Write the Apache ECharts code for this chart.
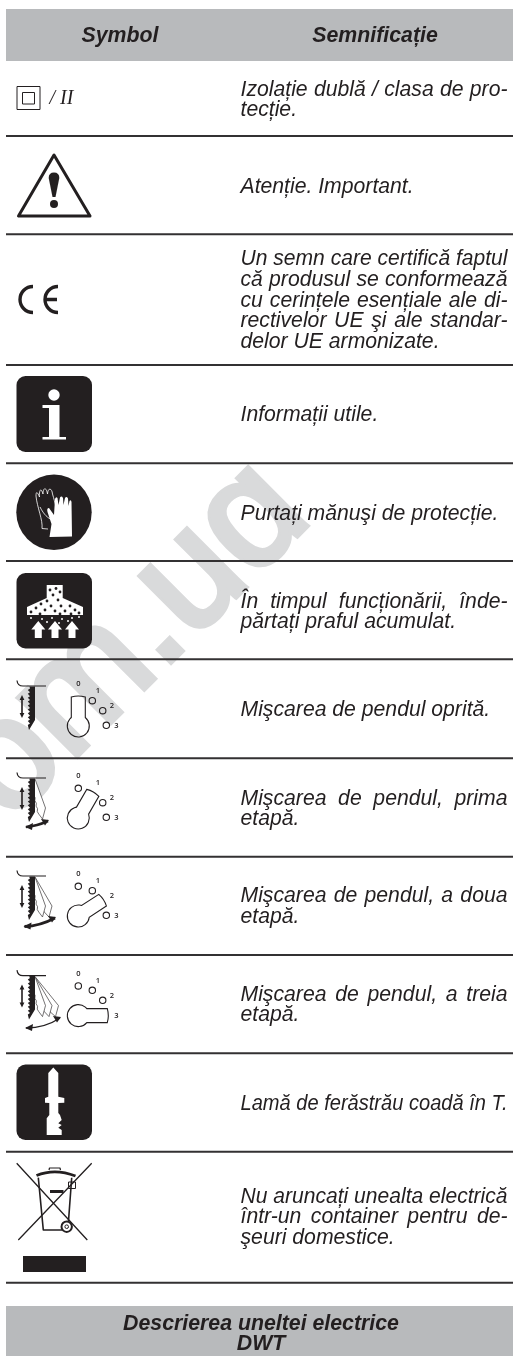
<!DOCTYPE html>
<html><head><meta charset="utf-8">
<style>html,body{margin:0;padding:0;background:#fff}#c{width:513px;height:1356px}</style>
<script src="https://cdn.jsdelivr.net/npm/echarts@6/dist/echarts.min.js"></script>
</head><body><div id="c"></div>
<script>
// ---- content ----
const headers = ['Symbol', 'Semnificație'];
const meanings = [
  ['Izolație dublă / clasa de pro-', 'tecție.'],
  ['Atenție. Important.'],
  ['Un semn care certifică faptul', 'că produsul se conformează', 'cu cerințele esențiale ale di-', 'rectivelor UE şi ale standar-', 'delor UE armonizate.'],
  ['Informații utile.'],
  ['Purtați mănuşi de protecție.'],
  ['În timpul funcționării, înde-', 'părtați praful acumulat.'],
  ['Mişcarea de pendul oprită.'],
  ['Mişcarea de pendul, prima', 'etapă.'],
  ['Mişcarea de pendul, a doua', 'etapă.'],
  ['Mişcarea de pendul, a treia', 'etapă.'],
  ['Lamă de ferăstrău coadă în T.'],
  ['Nu aruncați unealta electrică', 'într-un container pentru de-', 'şeuri domestice.']
];
const footerLines = ['Descrierea uneltei electrice', 'DWT'];
const watermark = 'om.uɑ';
const dialLabels = ['0', '1', '2', '3'];
const classTwoLabel = '/ II';

// ---- layout ----
const INK = '#231f20', BAND = '#b8babc', RULE = '#333132', WM = '#d9dadb';
const TEXT_L = 240.5, TEXT_R = 507.5, LEAD = 20.75, FS = 21.2;
const firstBaselines = [96, 193, 265.5, 421.7, 520, 608, 716.7, 805, 902.7, 1001, 1110, 1203];
const ruleYs = [136, 234.3, 365, 463.3, 561, 659.3, 758.3, 856.7, 955, 1053.3, 1151.7, 1282.7];
const bodyFont = 'italic 400 ' + FS + 'px "Liberation Sans"';
const headFont = 'italic 700 21.3px "Liberation Sans"';

const mctx = document.createElement('canvas').getContext('2d');
function widthOf(s, font) { mctx.font = font; return mctx.measureText(s).width; }
function txt(s, x, base, font, fill, align) {
  const m = /(\d+(\.\d+)?)px/.exec(font); const fs = +m[1];
  return { type: 'text', style: { text: s, x: x, y: base - 0.3 * fs, font: font, fill: fill || INK, align: align || 'left', verticalAlign: 'middle' } };
}
function path(d, style, extra) { return Object.assign({ type: 'path', shape: { pathData: d }, style: style }, extra || {}); }
const fillS = c => ({ fill: c || INK, stroke: 'none' });
const lineS = (w, c) => ({ fill: 'none', stroke: c || INK, lineWidth: w, lineJoin: 'round', lineCap: 'butt' });
function rrect(x, y, w, h, r, fill) { return { type: 'rect', shape: { x, y, width: w, height: h, r }, style: { fill: fill } }; }
function circ(cx, cy, r, style) { return { type: 'circle', shape: { cx, cy, r }, style }; }

function meaningItems(i) {
  const out = []; const lines = meanings[i];
  const avail = TEXT_R - TEXT_L;
  lines.forEach((ln, k) => {
    const y = firstBaselines[i] + k * LEAD;
    const natural = widthOf(ln, bodyFont);
    if (natural > avail) {
      // the original tightens over-long lines to the measure
      const t = txt(ln, 0, 0, bodyFont);
      t.x = TEXT_L; t.y = y; t.scaleX = avail / natural;
      out.push(t); return;
    }
    if (k === lines.length - 1) { out.push(txt(ln, TEXT_L, y, bodyFont)); return; }
    const words = ln.split(' ');
    const total = words.reduce((a, w) => a + widthOf(w, bodyFont), 0);
    const gap = (avail - total) / (words.length - 1);
    let x = TEXT_L;
    words.forEach(w => { out.push(txt(w, x, y, bodyFont)); x += widthOf(w, bodyFont) + gap; });
  });
  return out;
}

// ---- symbols ----
function pendulum(stage, dy) {
  const out = [];
  out.push(path('M17 ' + (680.5 + dy) + 'Q17.5 ' + (686 + dy) + ' 23 ' + (686 + dy) + 'L46 ' + (686 + dy), lineS(1.2)));
  out.push(path('M22 ' + (695 + dy) + 'L24.4 ' + (700 + dy) + 'L22.8 ' + (700 + dy) + 'L22.8 ' + (713 + dy) + 'L24.4 ' + (713 + dy) + 'L22 ' + (718 + dy) + 'L19.6 ' + (713 + dy) + 'L21.2 ' + (713 + dy) + 'L21.2 ' + (700 + dy) + 'L19.6 ' + (700 + dy) + 'Z', fillS()));
  for (let k = stage; k >= 1; k--) {
    const sk = k * 6.5 + 2; let d = 'M' + (35) + ' ' + (687 + dy);
    d += 'L' + (37 + sk) + ' ' + (716 + dy);
    d += 'L' + (34 + sk) + ' ' + (727 + dy);
    for (let t = 6; t >= 1; t--) {
      const f = t / 7, y = 687 + dy + f * 38, x = 30 + sk * f;
      d += 'L' + (x + 1.5) + ' ' + (y + 2.5) + 'L' + x + ' ' + y;
    }
    d += 'L30 ' + (687 + dy);
    out.push(path(d, { fill: '#fff', stroke: '#3a3738', lineWidth: 0.7, lineJoin: 'round' }));
  }
  let b = 'M29.5 ' + (686.5 + dy) + 'L35 ' + (686.5 + dy) + 'L35 ' + (720 + dy) + 'L29 ' + (730 + dy);
  for (let t = 10; t >= 1; t--) {
    const y = 687 + dy + t * 3.9;
    b += 'L27.8 ' + (y - 1) + 'L30 ' + (y - 2.5);
  }
  b += 'Z';
  out.push(path(b, fillS()));
  const arrows = [null,
    [[26, 827], [37, 826], [48, 821], 2.6],
    [[24.5, 926.5], [40, 926], [55, 918], 2.8],
    [[26, 1028], [45, 1028], [60, 1018], 1.3]];
  if (stage > 0) {
    const a = arrows[stage], p = a[0], q = a[1], r = a[2];
    out.push(path('M' + p + 'Q' + q + ' ' + r, lineS(a[3])));
    out.push(path('M' + (p[0] - 1) + ' ' + p[1] + 'L' + (p[0] + 7) + ' ' + (p[1] - 4) + 'L' + (p[0] + 6) + ' ' + (p[1] + 3) + 'Z', fillS()));
    out.push(path('M' + (r[0] + 1) + ' ' + (r[1] - 1) + 'L' + (r[0] - 7) + ' ' + (r[1] - 2) + 'L' + (r[0] - 3) + ' ' + (r[1] + 4.5) + 'Z', fillS()));
  }
  const cx = 78.3, cy = 726 + dy, ang = [0, 30, 57, 90][stage];
  out.push({ type: 'path', shape: { pathData: 'M-7 -29Q0 -31 7 -29L7 -8.5A11 11 0 1 1 -7 -8.5Z' }, x: cx, y: cy, rotation: -ang * Math.PI / 180, style: { fill: 'none', stroke: INK, lineWidth: 1.1 } });
  [[78.3, 696.3], [92.3, 700.7], [102.7, 710.7], [106.3, 725.3]].forEach((h, k) => {
    if (k !== stage) out.push(circ(h[0], h[1] + dy, 3.2, { fill: 'none', stroke: INK, lineWidth: 1.1 }));
  });
  [[78.3, 684], [98, 691], [112, 706], [116.3, 726]].forEach((h, k) => {
    out.push({ type: 'text', style: { text: dialLabels[k], x: h[0], y: h[1] + dy, font: '600 7.5px "Open Sans"', fill: INK, align: 'center', verticalAlign: 'middle' } });
  });
  return out;
}

function symbolItems(i) {
  switch (i) {
    case 0: return [
      { type: 'rect', shape: { x: 17, y: 86.5, width: 23, height: 23 }, style: { fill: 'none', stroke: INK, lineWidth: 1 } },
      { type: 'rect', shape: { x: 22.5, y: 92.5, width: 12, height: 11.5 }, style: { fill: 'none', stroke: INK, lineWidth: 1 } },
      txt(classTwoLabel, 49.5, 105, 'italic 400 20px "Liberation Serif"')
    ];
    case 1: return [
      { type: 'polygon', shape: { points: [[54, 155], [18.5, 216], [90, 216]] }, style: { fill: 'none', stroke: INK, lineWidth: 3, lineJoin: 'round' } },
      path('M48.7 178Q48.7 172.5 54 172.5Q59.3 172.5 59.3 178L55.5 197L52.5 197Z', fillS()),
      circ(54, 204, 4, { fill: INK })
    ];
    case 2: return [
      path('M33 286.5A13 13 0 0 0 33 312.5', lineS(3.4)),
      path('M58 286.5A13 13 0 0 0 58 312.5M44.5 299.5L57 299.5', lineS(3.4))
    ];
    case 3: return [
      rrect(16.5, 376, 75.5, 76, 9, INK),
      circ(54, 395, 5.7, { fill: '#fff' }),
      path('M42.5 405L59.5 405L59.5 437L66 437L66 439.5L42.5 439.5L42.5 437L49 437L49 408L42.5 408Z', fillS('#fff'))
    ];
    case 4: return [
      circ(54, 512.3, 37.7, { fill: INK }),
      path('M42 528.5L48 529M42 528.5C43 520 37 507 36 496C36 490 38 493 39.5 497C39 490 41 487 43 494C43 488 46 486 47.5 494C48 487 52 488 52.5 494C54 499 55 503 55.5 505M40 507C44 515 48 518 52 520', { fill: 'none', stroke: '#fff', lineWidth: 0.8, lineJoin: 'round' }),
      path('M49.5 537L51.5 524L47.5 512Q46.5 508 49 508L54 515L55 499Q56 496 57.5 498L58.5 505L60 497.5Q61.5 495.5 63 498L63.5 505L65 498Q66.5 496 68 498.5L68.5 506L69.5 501Q71 499 71.5 502L71.8 522L72 536.5Z', fillS('#fff'))
    ];
    case 5: {
      const out = [rrect(16.5, 573, 75.5, 75.5, 9, INK),
        path('M46.7 585L62.7 585L62.7 598L83 607L83 615L27 615L27 607L46.7 598Z', fillS('#fff'))];
      [[50, 590], [56, 588.5], [60, 592], [53, 595], [58, 600], [47, 601], [41, 604], [51, 606], [61, 606], [70, 606], [36, 608], [45, 610], [55, 611], [65, 611], [75, 610], [31, 612], [40, 614], [60, 614], [71, 614], [79, 613]].forEach(p => out.push(circ(p[0], p[1], 1.4, { fill: INK })));
      [[31, 618], [42, 619], [52, 618], [62, 619], [72, 618], [79, 617], [47, 622], [59, 623], [68, 621]].forEach(p => out.push(circ(p[0], p[1], 1, { fill: '#fff' })));
      [38.3, 55, 72].forEach(x => out.push(path('M' + x + ' 621L' + (x + 7) + ' 629.5L' + (x + 3.5) + ' 629.5L' + (x + 3.5) + ' 638L' + (x - 3.5) + ' 638L' + (x - 3.5) + ' 629.5L' + (x - 7) + ' 629.5Z', fillS('#fff'))));
      return out;
    }
    case 6: return pendulum(0, 0);
    case 7: return pendulum(1, 92);
    case 8: return pendulum(2, 190);
    case 9: return pendulum(3, 289.6);
    case 10: return [
      rrect(16.5, 1064.5, 75.5, 75.5, 9, INK),
      path('M53.3 1067.5L58.3 1073L58.3 1096.7L64.3 1098L64.3 1102.7L58.3 1103L58.3 1113L60 1115L61.7 1120L58.3 1123.3L61.7 1125L58.3 1127.7L61.7 1130L61.7 1135L46.7 1135L46.7 1118.3L49.3 1115L49.3 1103L45 1102.7L45 1098L48.3 1096.7L48.3 1073Z', fillS('#fff'))
    ];
    case 11: return [
      path('M16.7 1163.3L87.3 1240M91.7 1163.3L18.3 1240', lineS(1.3)),
      path('M38.3 1177.7L43.3 1230L62 1230M71.7 1177.7L68.5 1221', lineS(1.6)),
      path('M36.5 1175.5Q55 1168 75.5 1176', lineS(2.8)),
      path('M49 1170L49.5 1168L60 1168L60.5 1170', lineS(1.2)),
      { type: 'rect', shape: { x: 68.5, y: 1182, width: 7, height: 6.5 }, style: { fill: 'none', stroke: INK, lineWidth: 1 } },
      { type: 'rect', shape: { x: 50, y: 1190, width: 13.5, height: 3 }, style: { fill: INK } },
      circ(66.7, 1226.7, 5.2, { fill: '#fff', stroke: INK, lineWidth: 2 }),
      circ(66.7, 1226.7, 1.8, { fill: 'none', stroke: INK, lineWidth: 1 }),
      { type: 'rect', shape: { x: 23, y: 1256, width: 63, height: 16 }, style: { fill: INK } }
    ];
  }
  return [];
}

function chromeItems() {
  const out = [];
  out.push({ type: 'text', x: 16.5, y: 831.5, rotation: Math.PI / 4, style: { text: watermark, x: 0, y: -53.7, font: '400 155px "Liberation Sans"', fill: WM, stroke: WM, lineWidth: 6, align: 'left', verticalAlign: 'middle' } });
  out.push({ type: 'rect', shape: { x: 6, y: 9, width: 507, height: 52 }, style: { fill: BAND } });
  out.push({ type: 'rect', shape: { x: 6, y: 1306, width: 507, height: 50 }, style: { fill: BAND } });
  ruleYs.forEach(y => out.push({ type: 'rect', shape: { x: 6, y: y - 1, width: 507, height: 2 }, style: { fill: RULE } }));
  out.push(txt(headers[0], 120, 42.7, headFont, INK, 'center'));
  out.push(txt(headers[1], 375, 42.7, headFont, INK, 'center'));
  out.push(txt(footerLines[0], 261, 1330.5, headFont, INK, 'center'));
  out.push(txt(footerLines[1], 261, 1351, headFont, INK, 'center'));
  return out;
}

const chart = echarts.init(document.getElementById('c'), null, { renderer: 'canvas', width: 513, height: 1356 });
chart.setOption({
  animation: false,
  backgroundColor: '#fff',
  series: [
    { type: 'custom', coordinateSystem: 'none', silent: true, z: 1, data: [[0]],
      renderItem: () => ({ type: 'group', children: chromeItems() }) },
    { type: 'custom', coordinateSystem: 'none', silent: true, z: 2, data: meanings.map((m, i) => [i]),
      renderItem: (p, api) => ({ type: 'group', children: symbolItems(api.value(0)).concat(meaningItems(api.value(0))) }) }
  ]
});
</script></body></html>
